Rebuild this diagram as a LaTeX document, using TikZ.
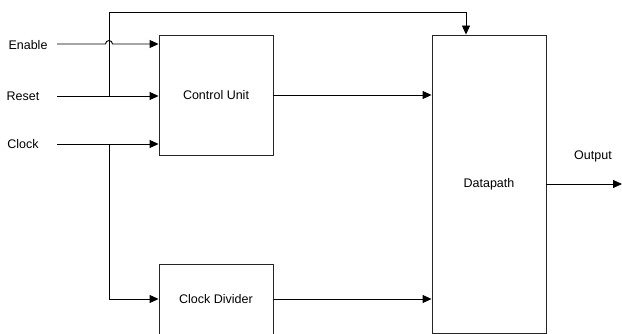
\documentclass[tikz,border=0pt]{standalone}
\usepackage{fontspec}
\setmainfont{Liberation Sans}
\usetikzlibrary{arrows.meta}
\begin{document}
\begin{tikzpicture}[x=1pt,y=-1pt,
  blk/.style={draw=black!85,line width=0.9pt,fill=white,inner sep=0pt,font=\fontsize{12.5}{14}\selectfont},
  lbl/.style={inner sep=0pt,font=\fontsize{12.5}{14}\selectfont},
  wire/.style={line width=0.9pt,black},
  arr/.style={wire,-{Triangle[length=9pt,width=8pt]}}]
\useasboundingbox (0,0) rectangle (622,334);
\node[blk,minimum width=114pt,minimum height=120pt] (cu) at (216,95) {Control Unit};
\node[blk,minimum width=114pt,minimum height=70pt] (cd) at (216,299) {Clock Divider};
\node[blk,minimum width=114pt,minimum height=298pt] (dp) at (489,184) {Datapath};
\node[lbl] (en) at (28,45) {Enable};
\node[lbl] (rs) at (23,96) {Reset};
\node[lbl] (ck) at (23,144) {Clock};
\node[lbl] (op) at (593,156) {Output};
\coordinate (enS) at (57,44);
\coordinate (rsS) at (57,96);
\coordinate (ckS) at (57,144);
\coordinate (rj) at (109,96);
\coordinate (cj) at (109,144);
\coordinate (top) at (466,12);
\coordinate (out) at (622,184);
\draw[arr] (enS) -- (105.5,44) arc[start angle=180,end angle=0,radius=3.5pt] -- (cu.west |- enS);
\draw[arr] (rsS) -- (cu.west |- rsS);
\draw[arr] (ckS) -- (cu.west |- ckS);
\draw[arr] (rj) |- (top) -- (top |- dp.north);
\draw[arr] (cj) |- (cd.west);
\draw[arr] (cu.east) -- (dp.west |- cu.east);
\draw[arr] (cd.east) -- (dp.west |- cd.east);
\draw[arr] (dp.east) -- (out);
\end{tikzpicture}
\end{document}
